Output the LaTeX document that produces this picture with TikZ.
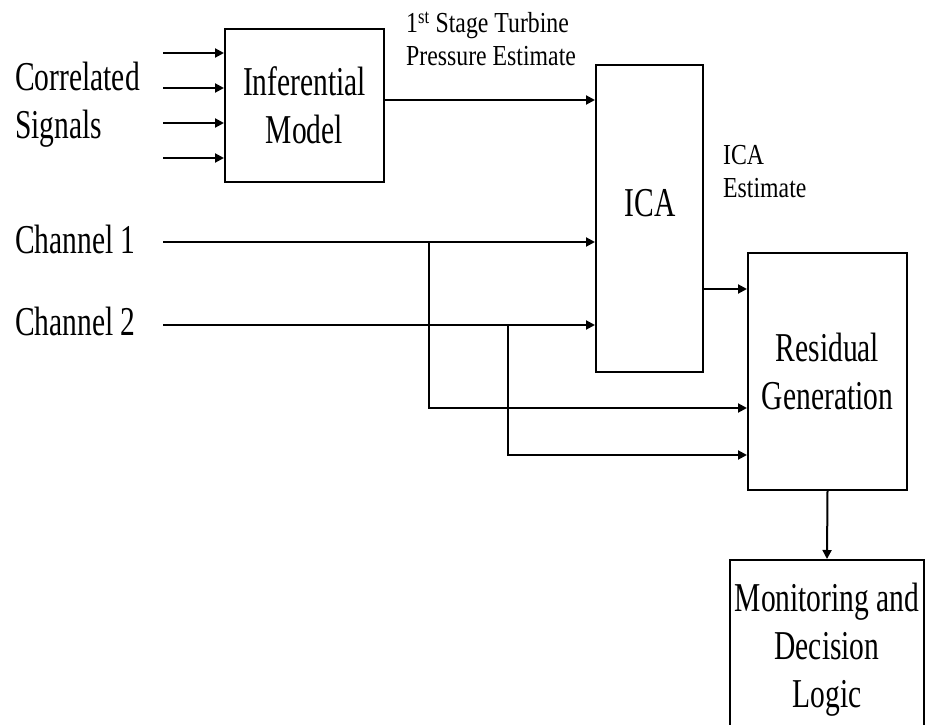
\documentclass[tikz,border=0pt]{standalone}
\usepackage{fontspec}
\setmainfont[FakeStretch=0.72]{Liberation Serif}
\newfontfamily\notefont[FakeStretch=0.82]{Liberation Serif}
\usetikzlibrary{arrows.meta}

\begin{document}
\begin{tikzpicture}[x=1pt,y=-1pt,
    block/.style={draw, line width=2pt, inner sep=2pt, font=\fontsize{41}{48}\selectfont, align=center},
    sidetext/.style={font=\fontsize{41}{48}\selectfont, align=left, inner sep=0pt},
    notetext/.style={font=\notefont\fontsize{29}{33}\selectfont, align=left, inner sep=0pt},
    sig/.style={line width=2pt, -{Triangle[length=9pt,width=9pt]}}]
             \useasboundingbox (0,0) rectangle (927,725);
             \clip (0,0) rectangle (927,725);

             % blocks
             \node[block, minimum width=159, minimum height=153] (inf) at (304.5,105.5) {Inferential\\Model};
             \node[block, minimum width=107, minimum height=307] (ica) at (649.5,218.5) {};
             \node[font=\fontsize{41}{48}\selectfont, inner sep=0pt] (icalabel) at (650,203) {ICA};
             \node[block, minimum width=159, minimum height=237] (res) at (827.5,371.5) {Residual\\Generation};
             \node[block, minimum width=194, minimum height=180] (mon) at (827,650) {Monitoring and\\Decision\\Logic};

             % labels
             \node[sidetext, anchor=west] (corr) at (15,105) {Correlated\\Signals};
             \node[sidetext, anchor=base west] (ch1) at (15,253) {Channel 1};
             \node[sidetext, anchor=base west] (ch2) at (15,335) {Channel 2};
             \node[notetext, anchor=west] (est) at (406,39) {1\textsuperscript{st} Stage Turbine\\Pressure Estimate};
             \node[notetext, anchor=west] (icaest) at (723,172) {ICA\\Estimate};

             % correlated inputs
             \foreach \y [count=\i] in {53,88,123,158}{
               \coordinate (in\i) at (163,\y);
               \draw[sig] (in\i) -- (in\i -| inf.west);
             }
             \draw[sig] (inf.east |- 0,100) -- (ica.west |- 0,100);

             % channels
             \coordinate (c1) at (163,242);
             \coordinate (c2) at (163,325);
             \draw[sig] (c1) -- (c1 -| ica.west);
             \draw[sig] (c2) -- (c2 -| ica.west);
             \coordinate (b1) at (429,242);
             \coordinate (b2) at (508,325);
             \draw[sig] (b1) |- (res.west |- 0,408);
             \draw[sig] (b2) |- (res.west |- 0,455);

             \draw[sig] (ica.east |- 0,289) -- (res.west |- 0,289);
             \draw[sig] (res.south) -- (mon.north);
\end{tikzpicture}
\end{document}
